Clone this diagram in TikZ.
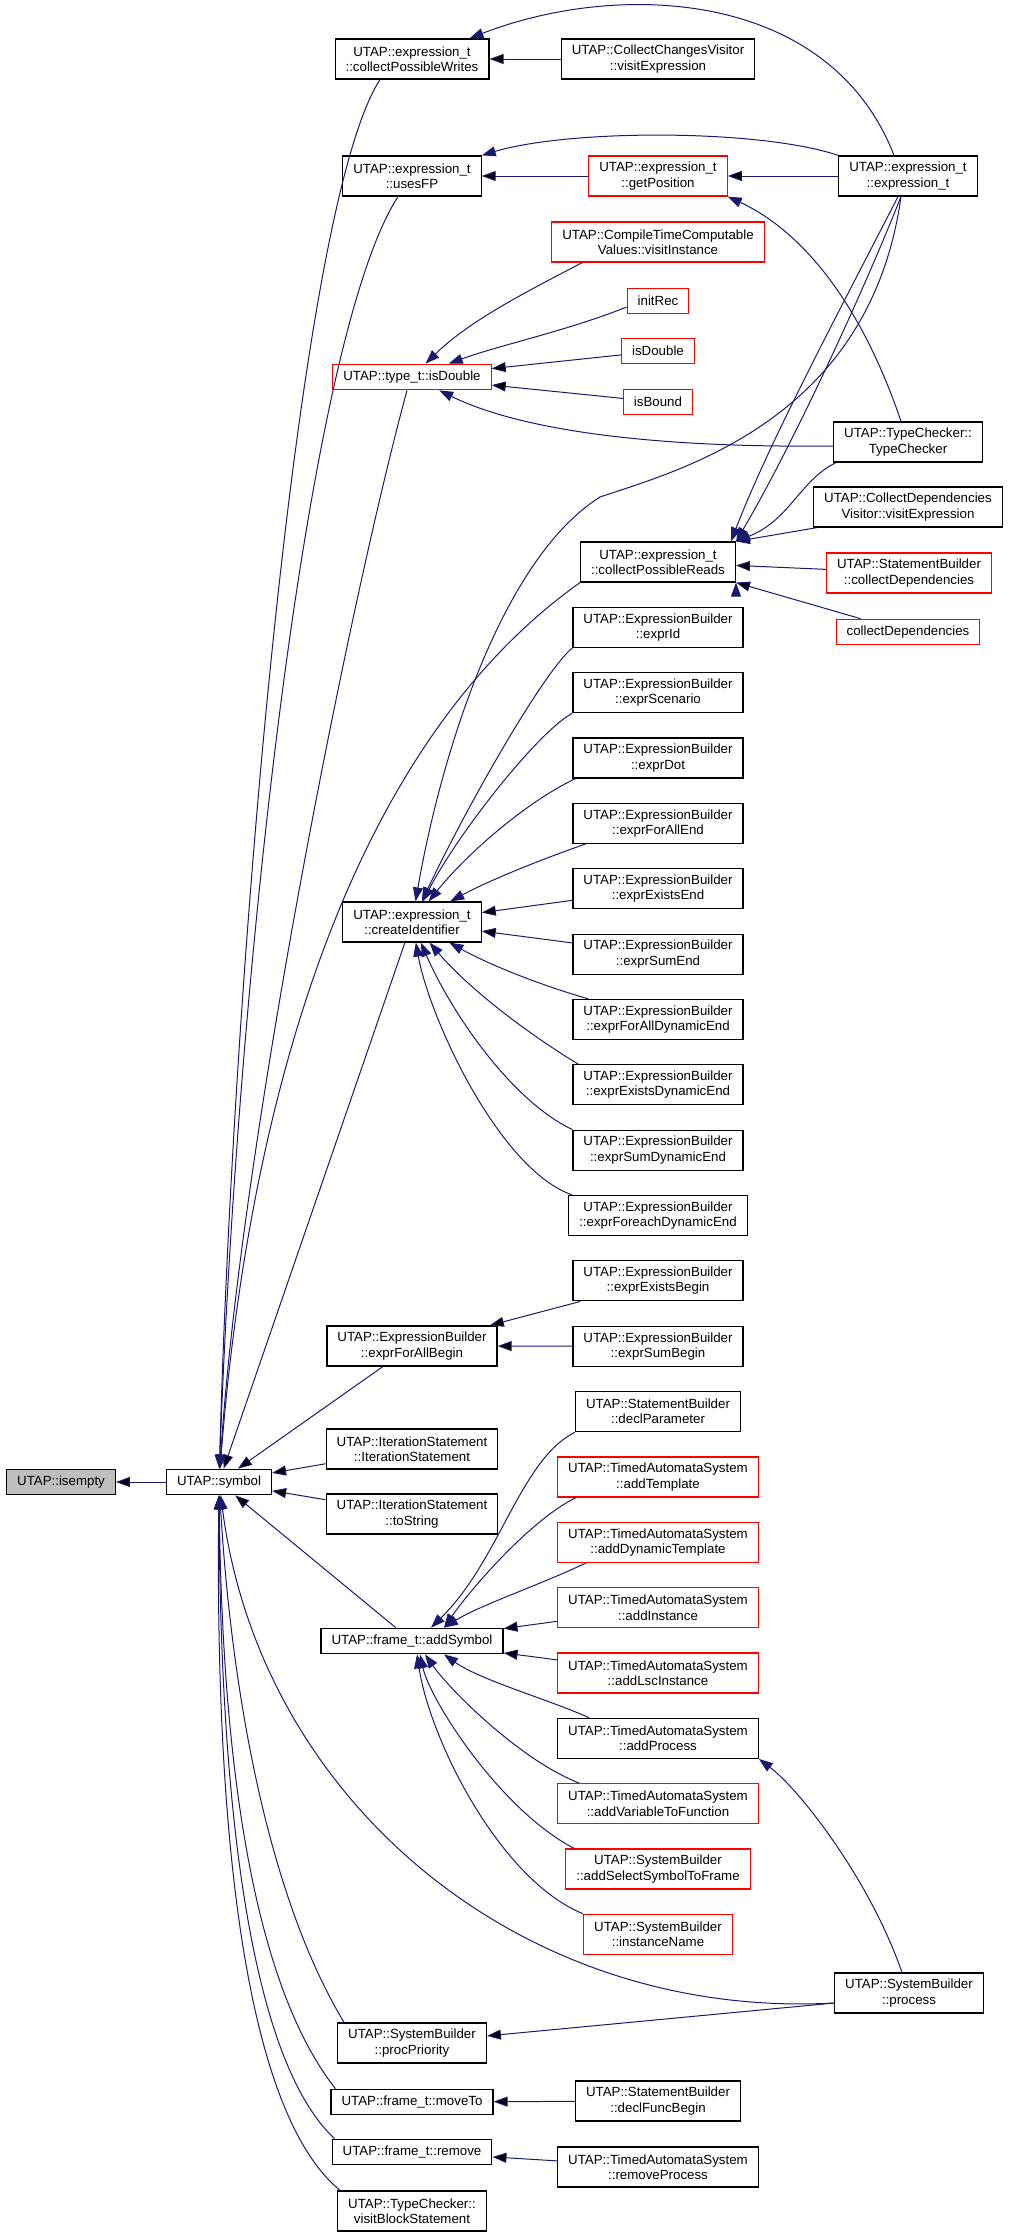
\documentclass[tikz,border=0pt]{standalone}
\usepackage{fontspec}
\setmainfont{Liberation Sans}
\usetikzlibrary{arrows.meta,positioning}
\definecolor{calledge}{HTML}{191970}
\definecolor{rootgray}{HTML}{BFBFBF}

\begin{document}
\begin{tikzpicture}[<-,>={Triangle[length=14pt,width=10pt]},x=1pt,y=-1pt,node distance=65.35pt,
  fn node/.style={rectangle,draw=black,fill=white,line width=1.2pt,align=center,inner xsep=10.5pt,inner ysep=2pt,minimum height=25.5pt,font=\fontsize{13.3pt}{15.3pt}\selectfont},
  two/.style={minimum height=40pt},
  red node/.style={fn node,draw=red},
  call/.style={draw=calledge,line width=1pt}]

  \useasboundingbox (0,0) rectangle (1009,2238);

  \node[fn node,fill=rootgray] (isempty) at (61,1482) {UTAP::isempty};
  \node[fn node] (symbol) at (219,1482) {UTAP::symbol};

  \node[fn node,two] (cpw) at (412,59) {UTAP::expression\_t\\::collectPossibleWrites};
  \node[fn node,two] (usesfp) at (412,176) {UTAP::expression\_t\\::usesFP};
  \node[red node] (tisd) at (412,377) {UTAP::type\_t::isDouble};
  \node[fn node,two] (cid) at (412,922) {UTAP::expression\_t\\::createIdentifier};
  \node[fn node,two] (efab) at (412,1346) {UTAP::ExpressionBuilder\\::exprForAllBegin};
  \node[fn node,two] (itst) at (412,1449) {UTAP::IterationStatement\\::IterationStatement};
  \node[fn node,two] (tostr) at (412,1514) {UTAP::IterationStatement\\::toString};
  \node[fn node] (adds) at (412,1641) {UTAP::frame\_t::addSymbol};
  \node[fn node,two] (pp) at (412,2043) {UTAP::SystemBuilder\\::procPriority};
  \node[fn node] (mvt) at (412,2102) {UTAP::frame\_t::moveTo};
  \node[fn node] (rmv) at (412,2152) {UTAP::frame\_t::remove};
  \node[fn node,two] (vbs) at (412,2211) {UTAP::TypeChecker::\\visitBlockStatement};

  \node[fn node,two] (ccv) at (658,59) {UTAP::CollectChangesVisitor\\::visitExpression};
  \node[red node,two] (getp) at (658,176) {UTAP::expression\_t\\::getPosition};
  \node[red node,two] (ctcv) at (658,242) {UTAP::CompileTimeComputable\\Values::visitInstance};
  \node[red node] (initr) at (658,301) {initRec};
  \node[red node] (isd) at (658,351) {isDouble};
  \node[red node] (isb) at (658,402) {isBound};
  \node[fn node,two] (cpr) at (658,562) {UTAP::expression\_t\\::collectPossibleReads};
  \node[fn node,two] (eid) [below of=cpr] {UTAP::ExpressionBuilder\\::exprId};
  \node[fn node,two] (escen) [below of=eid] {UTAP::ExpressionBuilder\\::exprScenario};
  \node[fn node,two] (edot) [below of=escen] {UTAP::ExpressionBuilder\\::exprDot};
  \node[fn node,two] (efae) [below of=edot] {UTAP::ExpressionBuilder\\::exprForAllEnd};
  \node[fn node,two] (eee) [below of=efae] {UTAP::ExpressionBuilder\\::exprExistsEnd};
  \node[fn node,two] (ese) [below of=eee] {UTAP::ExpressionBuilder\\::exprSumEnd};
  \node[fn node,two] (efade) [below of=ese] {UTAP::ExpressionBuilder\\::exprForAllDynamicEnd};
  \node[fn node,two] (eede) [below of=efade] {UTAP::ExpressionBuilder\\::exprExistsDynamicEnd};
  \node[fn node,two] (esde) [below of=eede] {UTAP::ExpressionBuilder\\::exprSumDynamicEnd};
  \node[fn node,two] (efede) [below of=esde] {UTAP::ExpressionBuilder\\::exprForeachDynamicEnd};
  \node[fn node,two] (eeb) [below of=efede] {UTAP::ExpressionBuilder\\::exprExistsBegin};
  \node[fn node,two] (esb) [below of=eeb] {UTAP::ExpressionBuilder\\::exprSumBegin};
  \node[fn node,two] (dpar) [below of=esb] {UTAP::StatementBuilder\\::declParameter};
  \node[red node,two] (addt) [below of=dpar] {UTAP::TimedAutomataSystem\\::addTemplate};
  \node[red node,two] (adt) [below of=addt] {UTAP::TimedAutomataSystem\\::addDynamicTemplate};
  \node[red node,two] (addi) [below of=adt] {UTAP::TimedAutomataSystem\\::addInstance};
  \node[red node,two] (addl) [below of=addi] {UTAP::TimedAutomataSystem\\::addLscInstance};
  \node[fn node,two] (addp) [below of=addl] {UTAP::TimedAutomataSystem\\::addProcess};
  \node[red node,two] (avtf) [below of=addp] {UTAP::TimedAutomataSystem\\::addVariableToFunction};
  \node[red node,two] (asstf) [below of=avtf] {UTAP::SystemBuilder\\::addSelectSymbolToFrame};
  \node[red node,two] (instn) [below of=asstf] {UTAP::SystemBuilder\\::instanceName};
  \node[fn node,two] (dfb) at (658,2101) {UTAP::StatementBuilder\\::declFuncBegin};
  \node[fn node,two] (rmp) at (658,2167) {UTAP::TimedAutomataSystem\\::removeProcess};

  \node[fn node,two] (exprt) at (908,176) {UTAP::expression\_t\\::expression\_t};
  \node[fn node,two] (tcc) at (908,442) {UTAP::TypeChecker::\\TypeChecker};
  \node[fn node,two] (cdv) at (908,507) {UTAP::CollectDependencies\\Visitor::visitExpression};
  \node[red node,two] (sbcd) at (909,573) {UTAP::StatementBuilder\\::collectDependencies};
  \node[red node] (cdep) at (908,632) {collectDependencies};
  \node[fn node,two] (proc) at (909,1993) {UTAP::SystemBuilder\\::process};

  \path[call]
    (isempty) edge (symbol)
    (symbol) edge (cid)
             edge (efab)
             edge (itst)
             edge (tostr)
             edge (adds)
    (cpw) edge (ccv)
    (usesfp) edge (getp)
    (getp) edge (exprt)
    (tisd) edge (isd)
           edge (isb)
    (cpr) edge (sbcd)
    (cpr.north east) edge ([xshift=4pt]cdv.south west)
    (cpr.south east) edge ([xshift=25pt]cdep.north west)
    (cid) edge (eee)
          edge (ese)
    (efab) edge (eeb)
           edge (esb)
    (adds) edge (addi)
           edge (addl)
    (pp) edge ([yshift=-10pt]proc.west)
    (mvt) edge (dfb)
    (rmv) edge (rmp);

  \draw[call] (symbol) .. controls (232,1000) and (295,210) .. ([xshift=-32pt]cpw.south);
  \draw[call] (symbol) .. controls (236,1000) and (305,340) .. ([xshift=-14pt]usesfp.south);
  \draw[call] (symbol) .. controls (240,1150) and (350,600) .. ([xshift=-5pt]tisd.south);
  \draw[call] (symbol) .. controls (245,1150) and (330,760) .. (cpr.south west);
  \draw[call] (symbol) .. controls (260,1800) and (520,2020) .. ([yshift=-10pt]proc.west);
  \draw[call] (symbol) .. controls (232,1700) and (270,1900) .. ([xshift=7pt]pp.north west);
  \draw[call] (symbol) .. controls (222,1750) and (250,1980) .. ([xshift=5pt]mvt.north west);
  \draw[call] (symbol) .. controls (220,1750) and (240,2050) .. ([xshift=3pt]rmv.north west);
  \draw[call] (symbol) .. controls (216,1750) and (230,2100) .. ([xshift=3pt]vbs.north west);

  \draw[call] ([xshift=-20pt]cpw.north east) .. controls (620,-20) and (830,-10) .. ([xshift=-14pt]exprt.north);
  \draw[call] (usesfp.north east) .. controls (570,129) and (760,129) .. (exprt.north west);
  \draw[call] (getp.south east) .. controls (800,230) and (860,300) .. ([xshift=-7pt]tcc.north);
  \draw[call] (tisd) .. controls (470,320) and (530,290) .. ([xshift=31pt]ctcv.south west);
  \draw[call] (tisd) .. controls (500,345) and (570,330) .. ([yshift=-6pt]initr.west);
  \draw[call] (tisd) .. controls (520,430) and (650,448) .. ([yshift=-4pt]tcc.west);
  \draw[call] (cpr.north east) .. controls (790,450) and (860,300) .. ([xshift=-7pt]exprt.south);
  \draw[call] ([xshift=-5pt]cpr.north east) .. controls (770,440) and (845,300) .. ([xshift=-10pt]exprt.south);
  \draw[call] (cpr.north east) .. controls (790,520) and (800,480) .. ([xshift=3pt]tcc.south west);
  \draw[call] (cid) .. controls (440,760) and (500,560) .. (600,497) .. controls (680,470) and (870,420) .. ([xshift=-7pt]exprt.south);

  \draw[call] (cid) .. controls (470,800) and (545,670) .. (eid.south west);
  \draw[call] (cid) .. controls (460,830) and (540,730) .. (escen.south west);
  \draw[call] (cid) .. controls (470,850) and (530,800) .. ([xshift=3pt]edot.south west);
  \draw[call] (cid) .. controls (490,880) and (540,860) .. ([xshift=13pt]efae.south west);
  \draw[call] (cid) .. controls (490,965) and (540,985) .. ([xshift=16pt]efade.north west);
  \draw[call] (cid) .. controls (470,990) and (530,1035) .. ([xshift=6pt]eede.north west);
  \draw[call] (cid) .. controls (450,1010) and (510,1100) .. (esde.north west);
  \draw[call] (cid) .. controls (430,1020) and (500,1170) .. ([xshift=4pt]efede.north west);

  \draw[call] ([xshift=19pt]adds.north) .. controls (500,1560) and (520,1460) .. (dpar.south west);
  \draw[call] ([xshift=32pt]adds.north) .. controls (470,1590) and (530,1520) .. ([xshift=19pt]addt.south west);
  \draw[call] ([xshift=32pt]adds.north) .. controls (480,1605) and (540,1585) .. ([xshift=29pt]adt.south west);
  \draw[call] ([xshift=32pt]adds.south) .. controls (480,1680) and (550,1700) .. ([xshift=32pt]addp.north west);
  \draw[call] ([xshift=13pt]adds.south) .. controls (450,1690) and (520,1760) .. ([xshift=22pt]avtf.north west);
  \draw[call] ([xshift=8pt]adds.south) .. controls (430,1700) and (500,1810) .. ([xshift=9pt]asstf.north west);
  \draw[call] ([xshift=5pt]adds.south) .. controls (430,1740) and (500,1880) .. (instn.north west);
  \draw[call] (addp.south east) .. controls (800,1790) and (870,1880) .. ([xshift=-7pt]proc.north);
\end{tikzpicture}
\end{document}
